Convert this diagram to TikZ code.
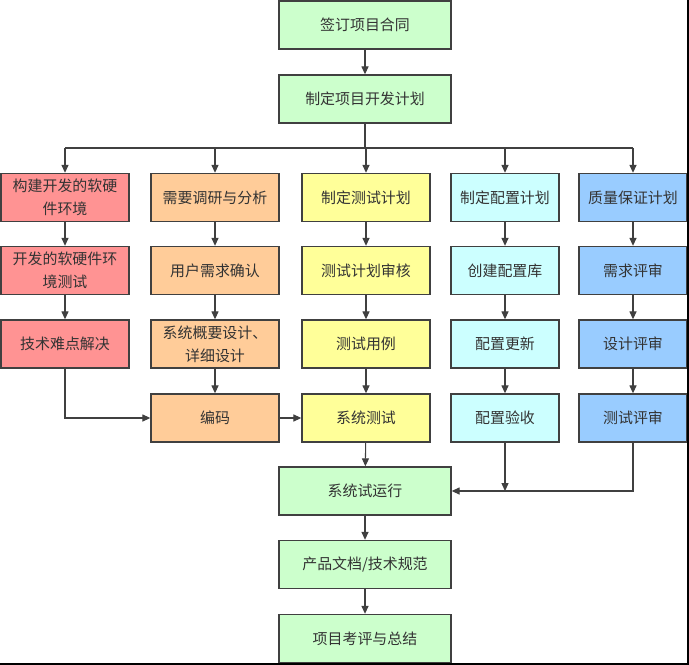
\documentclass[tikz,border=0pt]{standalone}
\usepackage{fontspec}
\newfontfamily\cjk{Noto Sans CJK SC}
\usetikzlibrary{arrows.meta}

\definecolor{fgreen}{HTML}{CCFFCC}
\definecolor{fred}{HTML}{FF9393}
\definecolor{forange}{HTML}{FFCC99}
\definecolor{fyellow}{HTML}{FFFF99}
\definecolor{fcyan}{HTML}{CCFFFF}
\definecolor{fblue}{HTML}{99CCFF}
\definecolor{edge}{HTML}{404040}

\begin{document}
\begin{tikzpicture}[x=0.02cm,y=-0.02cm,>={Triangle[length=4.5pt,width=4pt]},
  font=\cjk\fontsize{8.5}{13}\selectfont,
  bx/.style={draw=edge,line width=0.8pt,minimum height=0.96cm,align=center,inner sep=1pt,text=black!80},
  wide/.style={bx,minimum width=3.44cm,fill=fgreen},
  colA/.style={bx,minimum width=2.56cm},
  colB/.style={bx,minimum width=2.16cm},
  lk/.style={->,draw=edge,line width=0.6pt},
  ln/.style={draw=edge,line width=0.6pt}]
\useasboundingbox (0,0) rectangle (689,665);
% main column
\node[wide] (contract) at (365,25) {签订项目合同};
\node[wide] (plan) at (365,99) {制定项目开发计划};
% column 1
\node[colA,fill=fred] (env) at (65,197.5) {构建开发的软硬\\件环境};
\node[colA,fill=fred] (envtest) at (65,270.5) {开发的软硬件环\\境测试};
\node[colA,fill=fred] (tech) at (65,344) {技术难点解决};
% column 2
\node[colA,fill=forange] (req) at (215,197.5) {需要调研与分析};
\node[colA,fill=forange] (confirm) at (215,270.5) {用户需求确认};
\node[colA,fill=forange] (design) at (215,344) {系统概要设计、\\详细设计};
\node[colA,fill=forange] (code) at (215,418) {编码};
% column 3
\node[colA,fill=fyellow] (tplan) at (366,197.5) {制定测试计划};
\node[colA,fill=fyellow] (treview) at (366,270.5) {测试计划审核};
\node[colA,fill=fyellow] (tcase) at (366,344) {测试用例};
\node[colA,fill=fyellow] (systest) at (366,418) {系统测试};
% column 4
\node[colB,fill=fcyan] (cplan) at (505,197.5) {制定配置计划};
\node[colB,fill=fcyan] (cbase) at (505,270.5) {创建配置库};
\node[colB,fill=fcyan] (cupd) at (505,344) {配置更新};
\node[colB,fill=fcyan] (cacc) at (505,418) {配置验收};
% column 5
\node[colB,fill=fblue] (qplan) at (633,197.5) {质量保证计划};
\node[colB,fill=fblue] (rreq) at (633,270.5) {需求评审};
\node[colB,fill=fblue] (rdes) at (633,344) {设计评审};
\node[colB,fill=fblue] (rtest) at (633,418) {测试评审};
% bottom
\node[wide] (trial) at (365,491) {系统试运行};
\node[wide] (docs) at (365,564.5) {产品文档/技术规范};
\node[wide] (eval) at (365,638.5) {项目考评与总结};

\coordinate (bus) at (365,148);
\coordinate (join) at (505,491);

\draw[lk] (contract) -- (plan);
\draw[ln] (plan) -- (bus);
\foreach \n in {env,req,tplan,cplan,qplan}
  \draw[lk] (bus -| \n) -- (\n);
\draw[ln] (bus -| env) -- (bus -| qplan);
% chains
\draw[lk] (env) -- (envtest);
\draw[lk] (envtest) -- (tech);
\draw[lk] (req) -- (confirm);
\draw[lk] (confirm) -- (design);
\draw[lk] (design) -- (code);
\draw[lk] (tplan) -- (treview);
\draw[lk] (treview) -- (tcase);
\draw[lk] (tcase) -- (systest);
\draw[lk] (cplan) -- (cbase);
\draw[lk] (cbase) -- (cupd);
\draw[lk] (cupd) -- (cacc);
\draw[lk] (qplan) -- (rreq);
\draw[lk] (rreq) -- (rdes);
\draw[lk] (rdes) -- (rtest);
% joins
\draw[lk] (tech) |- (code);
\draw[lk] (code) -- (systest);
\draw[lk] (systest) -- (trial);
\draw[lk] (cacc) -- (join);
\draw[lk] (rtest) |- (trial);
\draw[lk] (trial) -- (docs);
\draw[lk] (docs) -- (eval);
% frame
\draw[line width=1.2pt] (688,0) -- (688,664) -- (0,664);
\end{tikzpicture}
\end{document}
